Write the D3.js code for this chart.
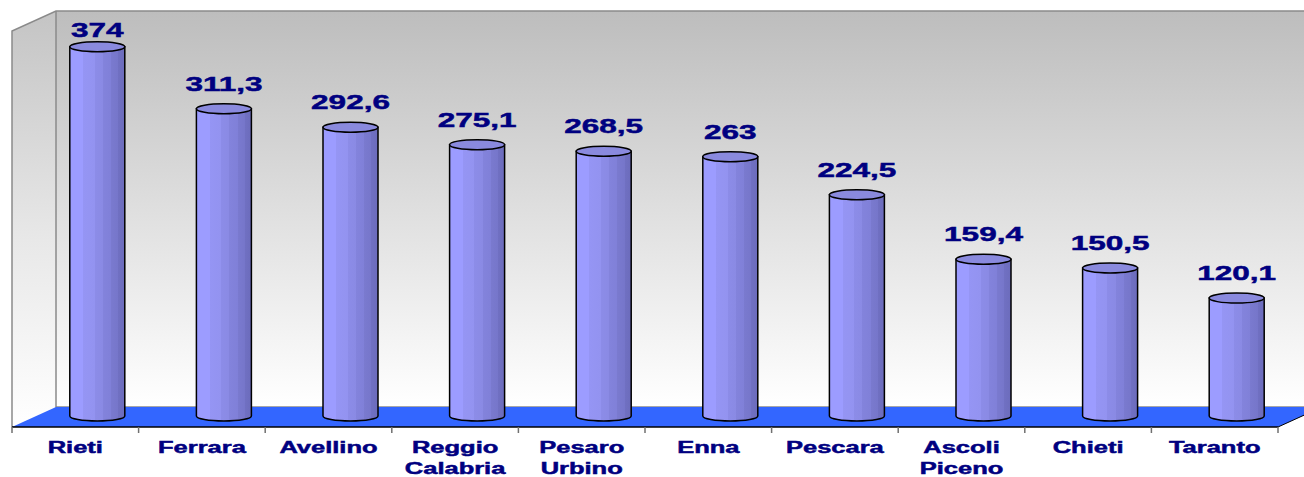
<!DOCTYPE html>
<html>
<head>
<meta charset="utf-8">
<script src="https://cdn.jsdelivr.net/npm/d3@7"></script>
<style>
  html, body { margin: 0; padding: 0; background: #ffffff; }
  svg { display: block; }
  text { font-family: "Liberation Sans", Arial, sans-serif; font-weight: bold; fill: #000080; stroke: #000080; stroke-width: 0.5px; }
</style>
</head>
<body>
<svg id="chart" width="1304" height="477"></svg>
<script>
// ---- data ----
const categories = ["Rieti", "Ferrara", "Avellino", "Reggio Calabria", "Pesaro Urbino", "Enna", "Pescara", "Ascoli Piceno", "Chieti", "Taranto"];
const categoryLines = [["Rieti"], ["Ferrara"], ["Avellino"], ["Reggio", "Calabria"], ["Pesaro", "Urbino"], ["Enna"], ["Pescara"], ["Ascoli", "Piceno"], ["Chieti"], ["Taranto"]];
const values = [374, 311.3, 292.6, 275.1, 268.5, 263, 224.5, 159.4, 150.5, 120.1];
const valueLabels = ["374", "311,3", "292,6", "275,1", "268,5", "263", "224,5", "159,4", "150,5", "120,1"];
const yDomain = [0, 400];

// ---- layout ----
const svg = d3.select("#chart");
const W = 1304, H = 477;
const depthX = 44, depthY = -20;           // 3D depth offset (front -> back)
const left = 12, right = 1278;
const x = d3.scaleBand().domain(categories).range([left, right]).paddingInner(0).paddingOuter(0);
const yFront = d3.scaleLinear().domain(yDomain).range([427, 31]);
const yMid = v => yFront(v) + depthY / 2;
const cylW = 55, ry = 5;

const defs = svg.append("defs");
const wallGrad = defs.append("linearGradient").attr("id", "wallGrad").attr("x1", 0).attr("y1", 0).attr("x2", 0).attr("y2", 1);
wallGrad.append("stop").attr("offset", "0%").attr("stop-color", "#bdbdbd");
wallGrad.append("stop").attr("offset", "55%").attr("stop-color", "#e2e2e2");
wallGrad.append("stop").attr("offset", "100%").attr("stop-color", "#ffffff");
const lwGrad = defs.append("linearGradient").attr("id", "lwGrad").attr("x1", 0).attr("y1", 0).attr("x2", 0).attr("y2", 1);
lwGrad.append("stop").attr("offset", "0%").attr("stop-color", "#c4c4c4");
lwGrad.append("stop").attr("offset", "55%").attr("stop-color", "#e8e8e8");
lwGrad.append("stop").attr("offset", "100%").attr("stop-color", "#ffffff");

const cylGrad = defs.append("linearGradient").attr("id", "cylGrad").attr("x1", 0).attr("y1", 0).attr("x2", 1).attr("y2", 0);
[["0%", "#9c9cff"], ["24%", "#9c9cff"], ["24%", "#9595f4"], ["45%", "#9393f0"], ["45%", "#8c8ce8"], ["60%", "#8a8ae4"],
 ["60%", "#8383dc"], ["75%", "#8080d8"], ["75%", "#7a7acf"], ["88%", "#7676ca"], ["88%", "#7070c2"], ["100%", "#6c6cbc"]]
  .forEach(s => cylGrad.append("stop").attr("offset", s[0]).attr("stop-color", s[1]));

// back wall
const bwTop = yFront(yDomain[1]) + depthY, bwBot = yFront(0) + depthY;
svg.append("rect").attr("x", left + depthX).attr("y", bwTop).attr("width", W - left - depthX + 10).attr("height", bwBot - bwTop)
  .attr("fill", "url(#wallGrad)");
// left wall
svg.append("path")
  .attr("d", `M${left},${yFront(yDomain[1])} L${left + depthX},${bwTop} L${left + depthX},${bwBot} L${left},${yFront(0)} Z`)
  .attr("fill", "url(#lwGrad)");
// wall edges
const edge = svg.append("g").attr("stroke", "#8a8a8a").attr("stroke-width", 1.5).attr("fill", "none");
edge.append("path").attr("d", `M${left},${yFront(0)} L${left},${yFront(yDomain[1])} L${left + depthX},${bwTop} L${W + 5},${bwTop}`);
edge.append("path").attr("d", `M${left + depthX},${bwTop} L${left + depthX},${bwBot} L${W + 5},${bwBot}`);

// floor
svg.append("path")
  .attr("d", `M${left},${yFront(0)} L${left + depthX},${bwBot} L${right + depthX},${bwBot} L${right},${yFront(0)} Z`)
  .attr("fill", "#3366ff");
svg.append("line").attr("x1", left).attr("x2", right).attr("y1", yFront(0)).attr("y2", yFront(0))
  .attr("stroke", "#000000").attr("stroke-width", 1.5);
svg.append("line").attr("x1", right).attr("x2", right + depthX).attr("y1", yFront(0)).attr("y2", bwBot)
  .attr("stroke", "#000000").attr("stroke-width", 1);
// ticks
const tickPos = categories.map(c => x(c)).concat([right]);
svg.append("g").selectAll("line").data(tickPos).join("line")
  .attr("x1", d => d).attr("x2", d => d).attr("y1", yFront(0)).attr("y2", yFront(0) + 6)
  .attr("stroke", "#707070").attr("stroke-width", 1.5);

// cylinders
const cx = c => x(c) + x.bandwidth() / 2 + depthX / 2;
const g = svg.append("g");
categories.forEach((c, i) => {
  const xc = cx(c), x0 = xc - cylW / 2, x1 = xc + cylW / 2;
  const yt = yMid(values[i]), yb = yMid(0) - 1;
  g.append("path")
    .attr("d", `M${x0},${yt} L${x0},${yb} A${cylW / 2},${ry} 0 0 0 ${x1},${yb} L${x1},${yt} Z`)
    .attr("fill", "url(#cylGrad)").attr("stroke", "#000").attr("stroke-width", 1.5);
  g.append("ellipse").attr("cx", xc).attr("cy", yt).attr("rx", cylW / 2).attr("ry", ry)
    .attr("fill", "#8a8ade").attr("stroke", "#000").attr("stroke-width", 1.5);
  // label kept inside the chart area
  const ly = Math.max(yt - 18, 37);
  g.append("text")
    .attr("transform", `translate(${xc},${ly}) scale(1.5,1)`)
    .attr("text-anchor", "middle").attr("font-size", 21)
    .text(valueLabels[i]);
});

// category labels
categories.forEach((c, i) => {
  const xc = x(c) + x.bandwidth() / 2;
  categoryLines[i].forEach((ln, j) => {
    svg.append("text")
      .attr("transform", `translate(${xc},${453 + j * 21}) scale(1.5,1)`)
      .attr("text-anchor", "middle").attr("font-size", 17)
      .text(ln);
  });
});
</script>
</body>
</html>
